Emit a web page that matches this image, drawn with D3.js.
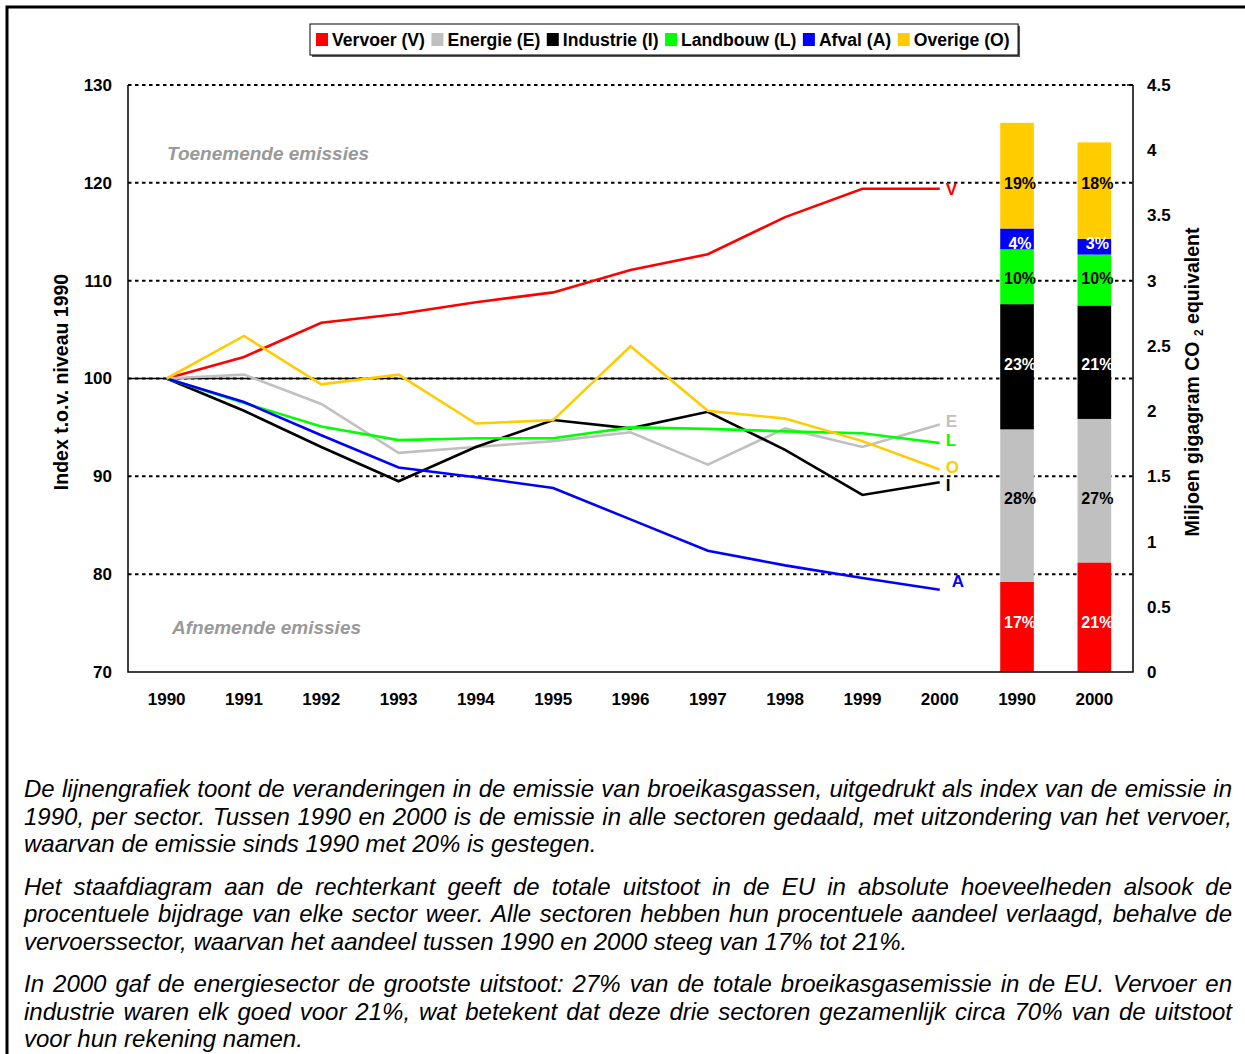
<!DOCTYPE html>
<html>
<head>
<meta charset="utf-8">
<script src="https://cdnjs.cloudflare.com/ajax/libs/d3/7.8.5/d3.min.js"></script>
<style>
body { margin: 0; background: #fff; font-family: "Liberation Sans", Arial, sans-serif; }
#chart { position: absolute; left: 0; top: 0; }
#notes { position: absolute; left: 24px; top: 775px; width: 1208px; font-style: italic; font-size: 24px; line-height: 27.5px; color: #000; }
#notes p { margin: 0 0 15px 0; }
#notes div { white-space: nowrap; }
</style>
</head>
<body>
<div id="chart"></div>
<div id="notes"></div>
<script>
// data
var years = ["1990","1991","1992","1993","1994","1995","1996","1997","1998","1999","2000"];
var barYears = ["1990","2000"];

var vervoer   = [100, 102.2, 105.7, 106.6, 107.8, 108.8, 111.1, 112.7, 116.5, 119.4, 119.4];
var energie   = [100, 100.4, 97.4, 92.4, 93.0, 93.6, 94.5, 91.2, 94.9, 93.0, 95.3];
var industrie = [100, 96.7, 93.0, 89.5, 93.0, 95.75, 94.9, 96.6, 92.7, 88.1, 89.4];
var landbouw  = [100, 97.5, 95.1, 93.7, 93.9, 93.9, 95.0, 94.85, 94.6, 94.4, 93.4];
var afval     = [100, 97.6, 94.2, 90.9, 89.9, 88.8, 85.6, 82.4, 80.9, 79.6, 78.4];
var overige   = [100, 104.35, 99.4, 100.4, 95.4, 95.75, 103.3, 96.7, 95.9, 93.6, 90.7];

// absolute emissions (miljoen gigagram CO2 eq), order V E I L A O
var bars1990 = [0.69, 1.17, 0.96, 0.42, 0.16, 0.81];
var bars2000 = [0.84, 1.10, 0.87, 0.39, 0.12, 0.74];
var pct1990 = [17, 28, 23, 10, 4, 19];
var pct2000 = [21, 27, 21, 10, 3, 18];

var sectorKeys = ["V", "E", "I", "L", "A", "O"];
var sectorNames = ["Vervoer (V)", "Energie (E)", "Industrie (I)", "Landbouw (L)", "Afval (A)", "Overige (O)"];
var leftTicks = [70, 80, 90, 100, 110, 120, 130];
var rightTicks = [0, 0.5, 1, 1.5, 2, 2.5, 3, 3.5, 4, 4.5];

var colors = {V: "#ff0000", E: "#c0c0c0", I: "#000000", L: "#00ff00", A: "#0000ff", O: "#ffcc00"};
var pctColor = {V: "#fff", E: "#000", I: "#fff", L: "#000", A: "#fff", O: "#000"};
var endLabelShift = {V: [6, 0], E: [6, -4], I: [6, 3], L: [6, -3], A: [12, -9], O: [6, -3]};

var series = [vervoer, energie, industrie, landbouw, afval, overige];

var width = 1245, height = 1054;
var svg = d3.select("#chart").append("svg")
    .attr("width", width)
    .attr("height", height);

// outer frame
svg.append("path")
   .attr("d", "M7," + height + "V7H" + width)
   .attr("fill", "none")
   .attr("stroke", "#000")
   .attr("stroke-width", 3);

var allLabels = years.concat(barYears);
var x = d3.scaleBand().domain(d3.range(allLabels.length)).range([128, 1133]);
var yL = d3.scaleLinear().domain([70, 130]).range([672, 85]);
var yR = d3.scaleLinear().domain([0, 4.5]).range([672, 85]);
var cx = function(i) { return x(i) + x.bandwidth() / 2; };

// dotted gridlines
svg.append("g").selectAll("line")
   .data(leftTicks.filter(function(d) { return d > 70; }))
   .enter().append("line")
   .attr("x1", 128).attr("x2", 1133)
   .attr("y1", function(d) { return yL(d); })
   .attr("y2", function(d) { return yL(d); })
   .attr("stroke", "#000")
   .attr("stroke-width", 2)
   .attr("stroke-dasharray", "3.5,3.5");

// stacked bars
var barRows = [bars1990, bars2000].map(function(b) {
    var o = {};
    sectorKeys.forEach(function(k, j) { o[k] = b[j]; });
    return o;
});
var stacked = d3.stack().keys(sectorKeys)(barRows);
var barW = x.bandwidth() * 0.435;

stacked.forEach(function(layer) {
    svg.append("g").selectAll("rect")
       .data(layer)
       .enter().append("rect")
       .attr("x", function(d, i) { return cx(years.length + i) - barW / 2; })
       .attr("y", function(d) { return yR(d[1]); })
       .attr("width", barW)
       .attr("height", function(d) { return yR(d[0]) - yR(d[1]); })
       .attr("fill", colors[layer.key]);
});

// percentage labels
var pcts = [pct1990, pct2000];
stacked.forEach(function(layer, j) {
    var my = d3.mean(layer, function(d) { return yR((d[0] + d[1]) / 2); });
    svg.append("g").selectAll("text")
       .data(layer)
       .enter().append("text")
       .attr("x", function(d, i) { return cx(years.length + i) + 3; })
       .attr("y", my)
       .attr("dy", "0.36em")
       .attr("text-anchor", "middle")
       .style("font-size", "16px")
       .style("font-weight", "bold")
       .attr("fill", pctColor[layer.key])
       .text(function(d, i) { return pcts[i][j] + "%"; });
});

// reference line at 100
svg.append("line")
   .attr("x1", 128).attr("x2", cx(years.length - 1))
   .attr("y1", yL(100)).attr("y2", yL(100))
   .attr("stroke", "#000").attr("stroke-width", 1.5);

// index lines
var line = d3.line()
    .x(function(d, i) { return cx(i); })
    .y(function(d) { return yL(d); });

series.forEach(function(s, j) {
    var k = sectorKeys[j];
    svg.append("path")
       .datum(s)
       .attr("d", line)
       .attr("fill", "none")
       .attr("stroke", colors[k])
       .attr("stroke-width", 2.6)
       .attr("stroke-linejoin", "miter");

    svg.append("text")
       .attr("x", cx(s.length - 1) + endLabelShift[k][0])
       .attr("y", yL(s[s.length - 1]) + endLabelShift[k][1])
       .attr("dy", "0.36em")
       .style("font-size", "17px")
       .style("font-weight", "bold")
       .attr("fill", colors[k])
       .text(k);
});

// axes frame
svg.append("path")
   .attr("d", "M128,85V672H1133V85")
   .attr("fill", "none")
   .attr("stroke", "#000")
   .attr("stroke-width", 1.5);
svg.append("line").attr("x1", 1127).attr("x2", 1133).attr("y1", 85).attr("y2", 85)
   .attr("stroke", "#000").attr("stroke-width", 1.5);

var tickFont = function(g) {
    g.select(".domain").remove();
    g.selectAll("text").style("font-size", "17px").style("font-weight", "bold")
     .style("font-family", "'Liberation Sans', Arial, sans-serif").attr("fill", "#000");
};

svg.append("g").attr("transform", "translate(128,0)")
   .call(d3.axisLeft(yL).tickValues(leftTicks).tickSize(0).tickPadding(16))
   .call(tickFont);

svg.append("g").attr("transform", "translate(1133,0)")
   .call(d3.axisRight(yR).tickValues(rightTicks).tickSize(0).tickPadding(14).tickFormat(d3.format("")))
   .call(tickFont);

svg.append("g").attr("transform", "translate(0,672)")
   .call(d3.axisBottom(x).tickSize(0).tickPadding(21).tickFormat(function(i) { return allLabels[i]; }))
   .call(tickFont);

// axis titles
svg.append("text")
   .attr("transform", "translate(68,382) rotate(-90)")
   .attr("text-anchor", "middle")
   .style("font-size", "19.5px").style("font-weight", "bold")
   .text("Index t.o.v. niveau 1990");

var rt = svg.append("text")
   .attr("transform", "translate(1199,382) rotate(-90)")
   .attr("text-anchor", "middle")
   .style("font-size", "19.5px").style("font-weight", "bold");
rt.append("tspan").text("Miljoen gigagram CO ");
rt.append("tspan").attr("dy", 4).style("font-size", "12px").text("2");
rt.append("tspan").attr("dy", -4).text(" equivalent");

// annotations
svg.append("text")
   .attr("x", 167).attr("y", 160)
   .style("font-size", "19px").style("font-weight", "bold").style("font-style", "italic")
   .attr("fill", "#999")
   .text("Toenemende emissies");
svg.append("text")
   .attr("x", 172).attr("y", 634)
   .style("font-size", "19px").style("font-weight", "bold").style("font-style", "italic")
   .attr("fill", "#999")
   .text("Afnemende emissies");

// legend
var lg = svg.append("g");
var shadow = lg.append("rect").attr("fill", "#555");
var box = lg.append("rect").attr("fill", "#fff").attr("stroke", "#000").attr("stroke-width", 1);
var lx = 316;
sectorKeys.forEach(function(k, j) {
    lg.append("rect")
      .attr("x", lx).attr("y", 33).attr("width", 12).attr("height", 13)
      .attr("fill", colors[k]);
    var t = lg.append("text")
      .attr("x", lx + 16).attr("y", 39.5).attr("dy", "0.36em")
      .style("font-size", "17.6px").style("font-weight", "bold")
      .text(sectorNames[j]);
    lx += 16 + t.node().getComputedTextLength() + 6.5;
});
box.attr("x", 310).attr("y", 24).attr("width", lx - 310 + 2).attr("height", 31);
shadow.attr("x", 312).attr("y", 26).attr("width", lx - 310 + 2).attr("height", 31);

// explanatory text
var notes = [
  ["De lijnengrafiek toont de veranderingen in de emissie van broeikasgassen, uitgedrukt als index van de emissie in",
   "1990, per sector. Tussen 1990 en 2000 is de emissie in alle sectoren gedaald, met uitzondering van het vervoer,",
   "waarvan de emissie sinds 1990 met 20% is gestegen."],
  ["Het staafdiagram aan de rechterkant geeft de totale uitstoot in de EU in absolute hoeveelheden alsook de",
   "procentuele bijdrage van elke sector weer. Alle sectoren hebben hun procentuele aandeel verlaagd, behalve de",
   "vervoerssector, waarvan het aandeel tussen 1990 en 2000 steeg van 17% tot 21%."],
  ["In 2000 gaf de energiesector de grootste uitstoot: 27% van de totale broeikasgasemissie in de EU. Vervoer en",
   "industrie waren elk goed voor 21%, wat betekent dat deze drie sectoren gezamenlijk circa 70% van de uitstoot",
   "voor hun rekening namen."]
];
var ps = d3.select("#notes").selectAll("p").data(notes).enter().append("p");
ps.selectAll("div").data(function(d) { return d; }).enter().append("div")
  .append("span")
  .text(function(d) { return d; })
  .each(function(d, i, n) {
      // justify every line but the last of a paragraph
      if (i == n.length - 1) return;
      var w = this.getBoundingClientRect().width;
      var gaps = d.split(" ").length - 1;
      d3.select(this).style("word-spacing", ((1208 - w) / gaps) + "px");
  });
</script>
</body>
</html>
